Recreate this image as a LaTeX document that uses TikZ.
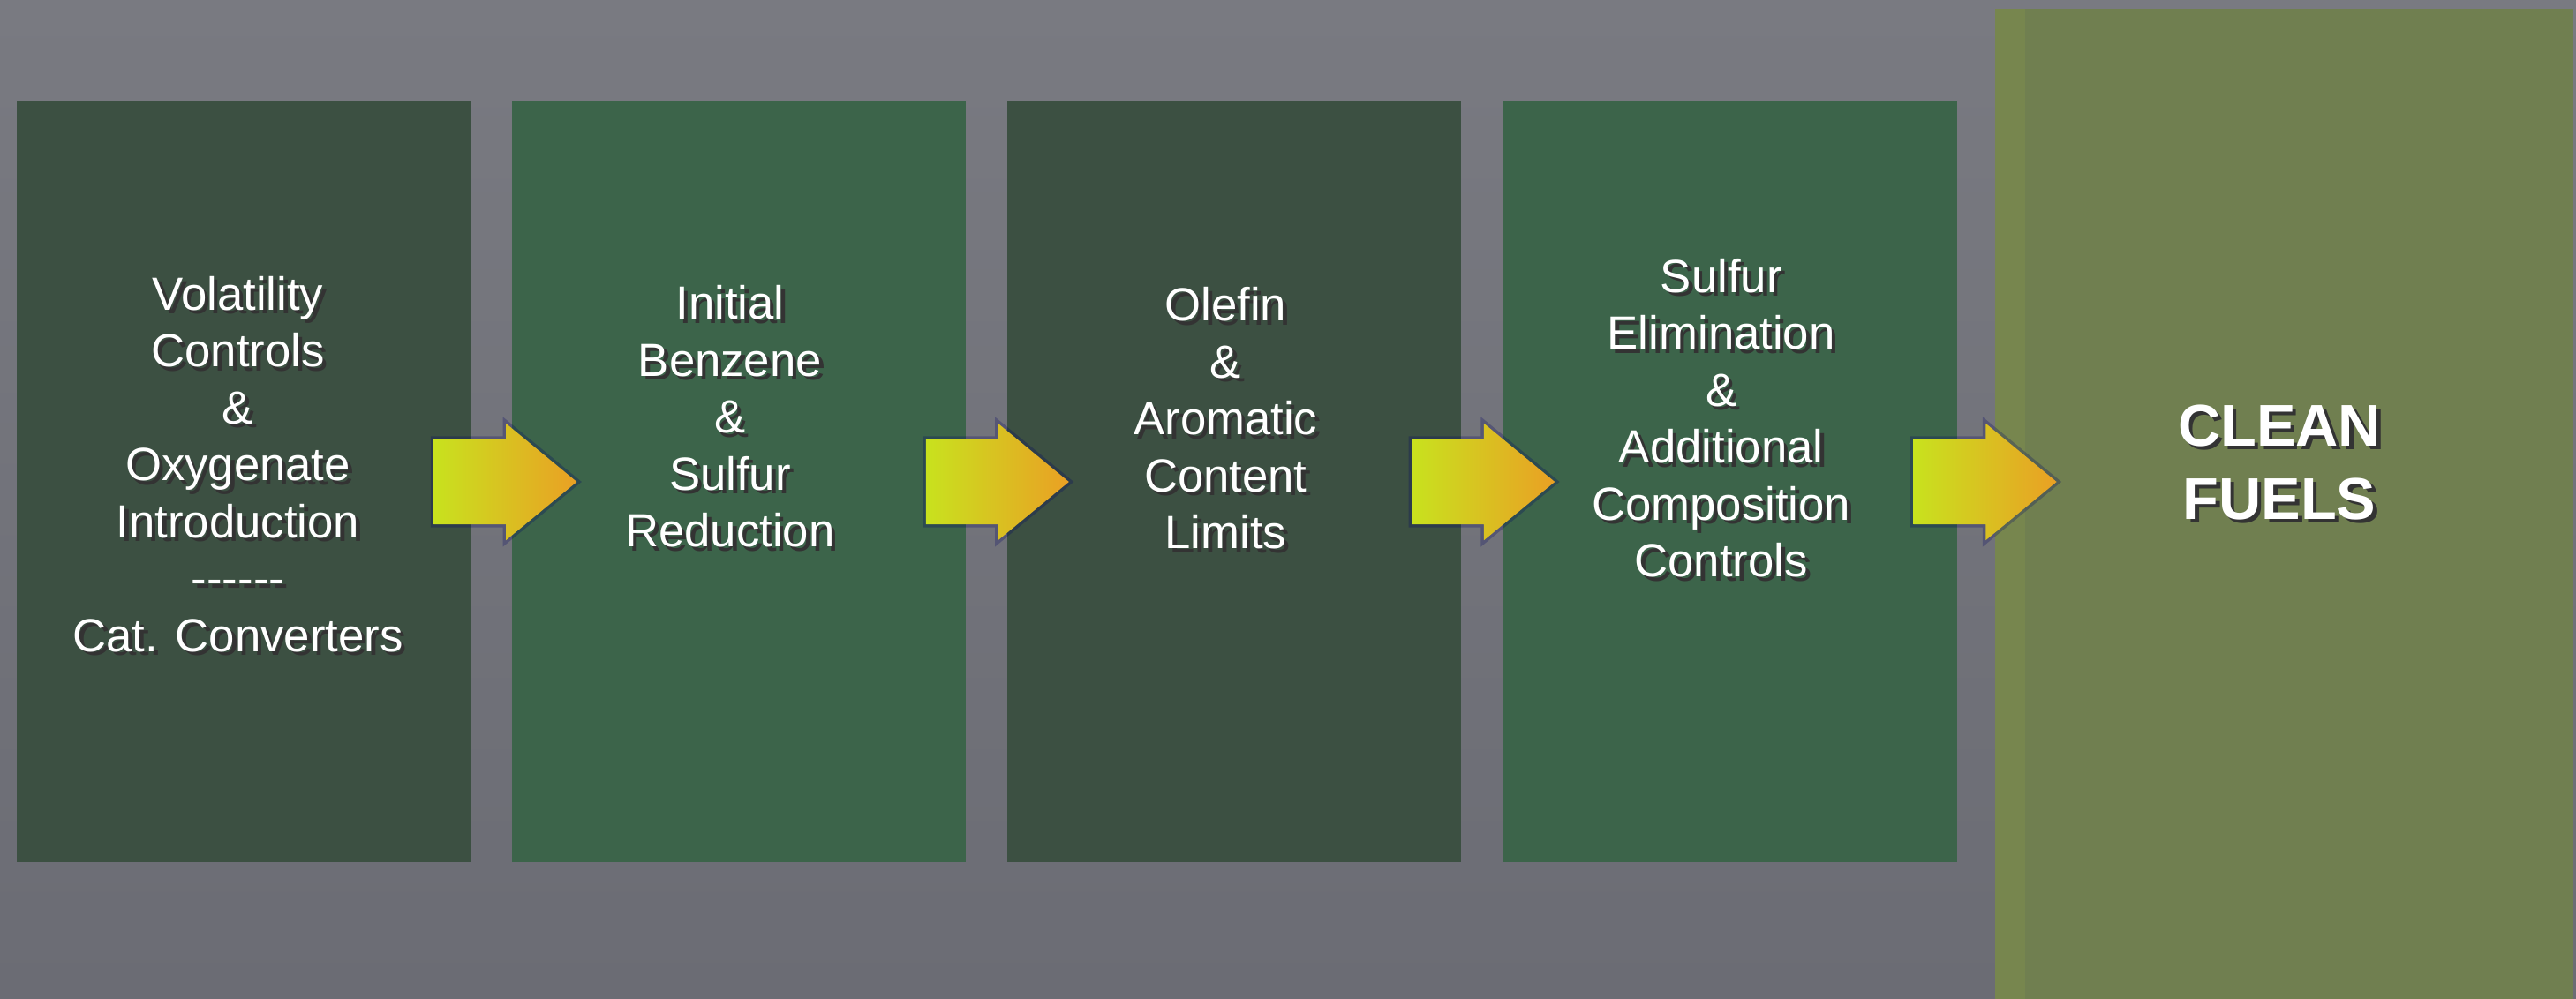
\documentclass[tikz,border=0pt]{standalone}
\usepackage{fontspec}
\usetikzlibrary{positioning,calc,shapes.arrows}
\newfontfamily\stagefont{Liberation Sans}
\definecolor{slatetop}{RGB}{121,122,129}
\definecolor{slatebot}{RGB}{107,108,116}
\definecolor{darkstage}{RGB}{60,80,66}
\definecolor{lightstage}{RGB}{60,100,74}
\definecolor{fuelgreen}{RGB}{112,127,80}
\definecolor{fuelstripe}{RGB}{119,134,78}
\definecolor{arrowleft}{RGB}{200,226,30}
\definecolor{arrowmid}{RGB}{226,196,48}
\definecolor{arrowright}{RGB}{234,160,36}
% white text with a dark shadow
\newcommand\shadowed[1]{%
  \setbox0\hbox{\begin{tabular}{@{}c@{}}#1\end{tabular}}%
  \rlap{\smash{\kern1.3pt\raisebox{-1.3pt}{\color{black!80}\begin{tabular}{@{}c@{}}#1\end{tabular}}}}%
  \box0}
\newcommand\dashrow{-\kern0pt-\kern0pt-\kern0pt-\kern0pt-\kern0pt-}
\tikzset{stage/.style={rectangle, draw=none, inner sep=0pt,
    minimum width=5.14cm, minimum height=8.62cm}, }
\tikzset{stage dark/.style={stage, fill=darkstage}, }
\tikzset{stage light/.style={stage, fill=lightstage}, }
\tikzset{fuel box/.style={rectangle, fill=fuelgreen, inner sep=0pt,
    minimum width=6.55cm, minimum height=11.31cm,
    path picture={\fill[fuelstripe] (path picture bounding box.south west)
      rectangle ([xshift=0.34cm]path picture bounding box.north west);}}, }
\tikzset{stage text/.style={text=white, inner sep=0pt,
    font=\stagefont\fontsize{15}{18.35}\selectfont}, }
\tikzset{fuel text/.style={text=white, inner sep=0pt,
    font=\stagefont\bfseries\fontsize{19}{23.6}\selectfont}, }
\tikzset{flow arrow/.style={single arrow, draw=none,
    inner xsep=0pt, inner ysep=0.475cm,
    minimum height=1.62cm, minimum width=1.31cm,
    single arrow head extend=0.18cm, single arrow tip angle=79,
    left color=arrowleft, middle color=arrowmid, right color=arrowright,
    preaction={draw=black!60!blue, draw opacity=0.25, line width=0.07cm}}, }
\begin{document}
\begin{tikzpicture}
 \useasboundingbox (0,0) rectangle (29.18,11.31);
 \fill[top color=slatetop, bottom color=slatebot] (0,0) rectangle (29.18,11.31);
 %
 \node[stage dark] (s1) at (2.755,5.85) {};
 \node[stage light] (s2) [right=0.46cm of s1] {};
 \node[stage dark] (s3) [right=0.46cm of s2] {};
 \node[stage light] (s4) [right=0.46cm of s3] {};
 \node[fuel box] (fuel) at (25.875,5.555) {};
 %
 \node[stage text] (t1) at ([xshift=-0.06cm,yshift=0.14cm]s1.center)
   {\shadowed{Volatility\\Controls\\\&\\Oxygenate\\Introduction\\\dashrow\\Cat. Converters}};
 \node[stage text] (t2) at ([xshift=-0.1cm,yshift=0.68cm]s2.center)
   {\shadowed{Initial\\Benzene\\\&\\Sulfur\\Reduction}};
 \node[stage text] (t3) at ([xshift=-0.1cm,yshift=0.66cm]s3.center)
   {\shadowed{Olefin\\\&\\Aromatic\\Content\\Limits}};
 \node[stage text] (t4) at ([xshift=-0.1cm,yshift=0.665cm]s4.center)
   {\shadowed{Sulfur\\Elimination\\\&\\Additional\\Composition\\Controls}};
 \node[fuel text] (t5) at ([xshift=-0.055cm,yshift=0.455cm]fuel.center)
   {\shadowed{CLEAN\\FUELS}};
 %
 \foreach \a/\d in {s1/-0.425,s2/-0.465,s3/-0.575,s4/-0.505}
   \node[flow arrow, anchor=tail] (a-\a) at ([xshift=\d cm]\a.east) {};
\end{tikzpicture}
\end{document}
